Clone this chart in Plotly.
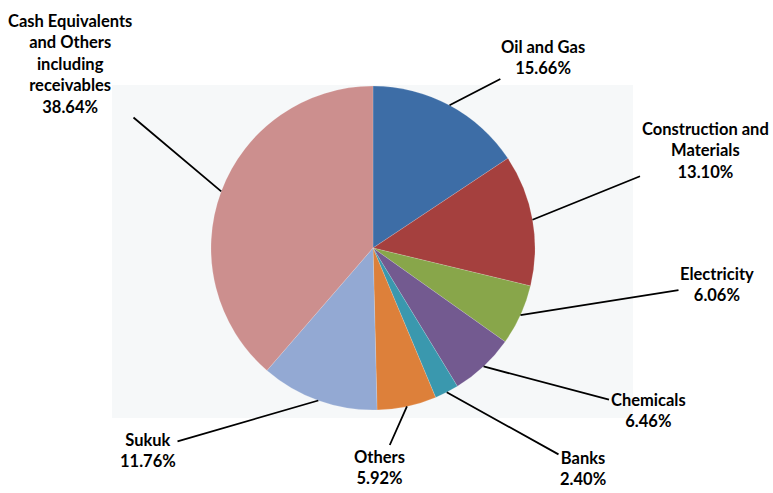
import numpy as np
import plotly.graph_objects as go

labels = ["Oil and Gas", "Construction and Materials", "Electricity", "Chemicals",
          "Banks", "Others", "Sukuk", "Cash Equivalents and Others including receivables"]
display_labels = ["Oil and Gas", "Construction and<br>Materials", "Electricity", "Chemicals",
                  "Banks", "Others", "Sukuk",
                  "Cash Equivalents<br>and Others<br>including<br>receivables"]
values = [15.66, 13.10, 6.06, 6.46, 2.40, 5.92, 11.76, 38.64]
colors = ["#3D6DA6", "#A5403E", "#88A64A", "#735A90", "#3A98AE", "#DD803A", "#93A9D3", "#CC8F8E"]

# label centres (pixels) - layout only
label_px = [(543, 57), (705, 150), (717, 284), (648, 410), (583, 468), (380, 467), (148, 450), (70, 64)]

W, H = 773, 493
cx, cy, R = 373, 248, 162

fig = go.Figure()
fig.add_trace(go.Pie(
    labels=labels, values=values, sort=False, direction="clockwise", rotation=0,
    marker=dict(colors=colors, line=dict(color="rgba(255,255,255,0.3)", width=0.5)),
    textinfo="none", hoverinfo="label+percent", showlegend=False,
    domain=dict(x=[(cx - R) / W, (cx + R) / W], y=[1 - (cy + R) / H, 1 - (cy - R) / H]),
))

vals = np.array(values)
cum = np.cumsum(vals) / vals.sum()
mids = cum - vals / vals.sum() / 2
annotations = []
for name, v, m, (lx, ly) in zip(display_labels, values, mids, label_px):
    ang = 2 * np.pi * m
    tx = cx + R * np.sin(ang)
    ty = cy - R * np.cos(ang)
    annotations.append(dict(
        x=tx / W, y=1 - ty / H, xref="paper", yref="paper",
        ax=lx - tx, ay=ly - ty, axref="pixel", ayref="pixel",
        text=f"<b>{name}<br>{v:.2f}%</b>", showarrow=True, arrowhead=0,
        arrowwidth=1.8, arrowcolor="black", standoff=0,
        font=dict(family="Lato, Carlito, sans-serif", size=16.5, color="black"),
        align="center",
    ))

fig.update_layout(
    width=W, height=H, margin=dict(l=0, r=0, t=0, b=0),
    paper_bgcolor="white", plot_bgcolor="white",
    annotations=annotations,
    shapes=[dict(type="rect", xref="paper", yref="paper", x0=112 / W, x1=633 / W,
                 y0=1 - 418 / H, y1=1 - 85 / H, fillcolor="#F6F8F9",
                 line=dict(width=0), layer="below")],
)
fig.write_html("out.html")
